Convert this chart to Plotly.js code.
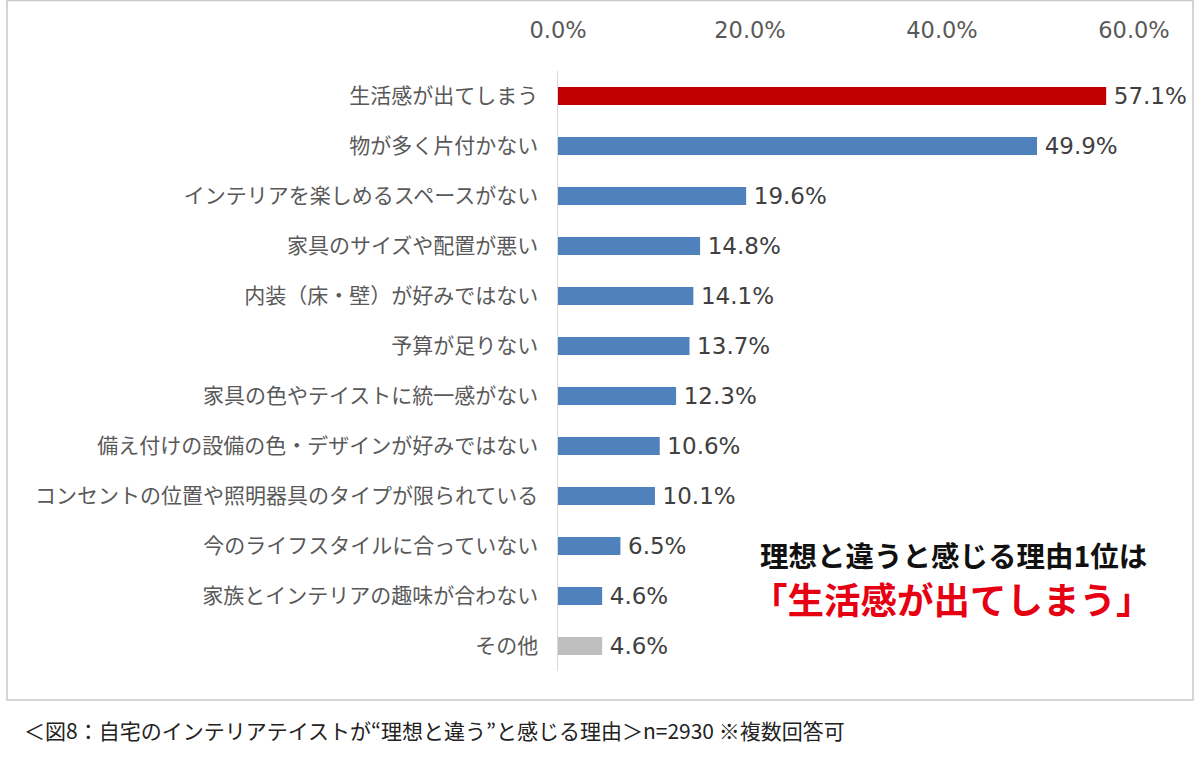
<!DOCTYPE html>
<html>
<head>
<meta charset="utf-8">
<script src="https://cdn.plot.ly/plotly-3.0.1.min.js"></script>
<style>
  html, body { margin: 0; padding: 0; background: #ffffff; }
  #chart { width: 1200px; height: 758px; }
</style>
</head>
<body>
<div id="chart"></div>
<script>
// Reasons the home interior feels different from the ideal (multiple answers, n=2930)
const categories = [
  "生活感が出てしまう",
  "物が多く片付かない",
  "インテリアを楽しめるスペースがない",
  "家具のサイズや配置が悪い",
  "内装（床・壁）が好みではない",
  "予算が足りない",
  "家具の色やテイストに統一感がない",
  "備え付けの設備の色・デザインが好みではない",
  "コンセントの位置や照明器具のタイプが限られている",
  "今のライフスタイルに合っていない",
  "家族とインテリアの趣味が合わない",
  "その他"
];
const values = [57.1, 49.9, 19.6, 14.8, 14.1, 13.7, 12.3, 10.6, 10.1, 6.5, 4.6, 4.6];
const tickValues = [0, 20, 40, 60];
const tickLabels = ["0.0%", "20.0%", "40.0%", "60.0%"];

const RED = "#C00000", BLUE = "#4F81BD", GREY = "#BFBFBF";
const barColors = categories.map((c, i) =>
  i === 0 ? RED : (c === "その他" ? GREY : BLUE));

const JP = "'Noto Sans CJK JP', 'Noto Sans', sans-serif";
const NUM = "'DejaVu Sans', 'Noto Sans CJK JP', sans-serif";

const trace = {
  type: "bar",
  orientation: "h",
  y: categories,
  x: values,
  width: 0.36,
  marker: { color: barColors, line: { width: 0 } },
  text: values.map(v => "\u2009" + v.toFixed(1) + "%"),
  textposition: "outside",
  constraintext: "none",
  textfont: { family: NUM, size: 23, color: "#404040" },
  cliponaxis: false,
  hoverinfo: "skip"
};

// plot area spans 558px..1134px horizontally and 71px..671px vertically
const L = 558, R = 1134, T = 71, B = 671;
const px = x => (x - L) / (R - L);
const py = y => (B - y) / (B - T);

const layout = {
  width: 1200,
  height: 758,
  margin: { l: L, r: 1200 - R, t: T, b: 758 - B, pad: 0 },
  paper_bgcolor: "#ffffff",
  plot_bgcolor: "#ffffff",
  showlegend: false,
  bargap: 0.64,
  xaxis: {
    side: "top",
    range: [0, 60],
    tickvals: tickValues,
    ticktext: tickLabels,
    showgrid: false,
    zeroline: false,
    showline: false,
    ticks: "",
    ticklabelstandoff: 28,
    tickfont: { family: NUM, size: 22.5, color: "#595959" },
    fixedrange: true
  },
  yaxis: {
    type: "category",
    autorange: "reversed",
    showgrid: false,
    zeroline: false,
    showline: true,
    linecolor: "#D9D9D9",
    linewidth: 1.5,
    ticks: "",
    ticklabelstandoff: 14,
    tickfont: { family: JP, size: 21, color: "#595959" },
    fixedrange: true
  },
  shapes: [
    {
      type: "rect", xref: "paper", yref: "paper",
      x0: px(7), x1: px(1193), y0: py(700), y1: py(0.5),
      line: { color: "#C8C8C8", width: 1.5 },
      fillcolor: "rgba(0,0,0,0)",
      layer: "below"
    }
  ],
  annotations: [
    {
      xref: "paper", yref: "paper",
      x: px(953), y: py(554),
      xanchor: "center", yanchor: "middle",
      text: "<b>理想と違うと感じる理由1位は</b>",
      showarrow: false,
      font: { family: JP, size: 28.5, color: "#111111" }
    },
    {
      xref: "paper", yref: "paper",
      x: px(952), y: py(598),
      xanchor: "center", yanchor: "middle",
      text: "<b>「生活感が出てしまう」</b>",
      showarrow: false,
      font: { family: JP, size: 36.5, color: "#E60012" }
    },
    {
      xref: "paper", yref: "paper",
      x: px(22), y: py(730),
      xanchor: "left", yanchor: "middle",
      text: "＜図8：自宅のインテリアテイストが“理想と違う”と感じる理由＞n=2930 ※複数回答可",
      showarrow: false,
      font: { family: JP, size: 21, color: "#222222" }
    }
  ]
};

Plotly.newPlot("chart", [trace], layout, { displayModeBar: false, staticPlot: true });
</script>
</body>
</html>
